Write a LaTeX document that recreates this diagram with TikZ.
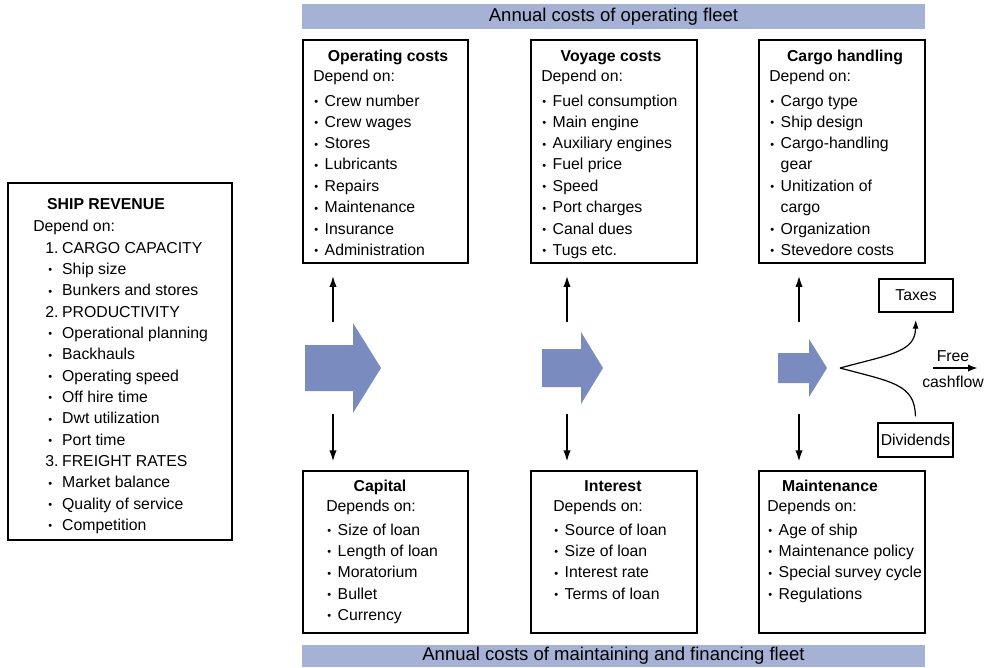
\documentclass[tikz,border=0pt]{standalone}
\usepackage{fontspec}
\usepackage{graphicx}
\setmainfont{Liberation Sans}
\usetikzlibrary{arrows.meta, fit}
\definecolor{Band}{HTML}{A5B2D6}
\definecolor{Flow}{HTML}{7A8BC0}

% bullets and list helpers
\newcommand\dotmark{\raisebox{0.5pt}{\scalebox{0.7}{\textbullet}}}
\newcommand\bul{\makebox[8.6pt][l]{\hspace*{0.8pt}\dotmark}}
\newcommand\rbul{\hspace*{10.5pt}\makebox[11.2pt][l]{\hspace*{0.8pt}\dotmark}}
\newcommand\rnum[1]{\hspace*{9pt}\makebox[12.7pt][l]{#1}}
\newcommand\lst[1]{\begin{tabular}[t]{@{}l@{}}#1\end{tabular}}

\begin{document}
\begin{tikzpicture}[x=0.75pt, y=-0.75pt,
  box/.style={draw, line width=0.9pt, inner sep=0pt},
  band/.style={fill=Band, inner sep=0pt, minimum width=467.25pt,
     font=\fontsize{13.9}{16}\selectfont},
  ttl/.style={anchor=base, inner sep=0pt, font=\fontsize{11.85}{16}\selectfont\bfseries},
  txt/.style={anchor=base west, inner sep=0pt, font=\fontsize{11.85}{16}\selectfont},
  lbl/.style={inner sep=0pt, font=\fontsize{11.85}{16}\selectfont},
  varr/.style={-{Latex[length=8.5pt,width=5.5pt]}, line width=1.4pt},
  flow/.style={fill=Flow}]
  \useasboundingbox (0,0) rectangle (988,667);

  % banners
  \node[band, minimum height=18.75pt] (opband) at (613.5,16.5)
    {Annual costs of operating fleet};
  \node[band, minimum height=16.5pt] (finband) at (613.5,656)
    {Annual costs of maintaining and financing fleet};

  % ship revenue
  \node[box, fit={(8,183) (232,540)}] (rev) {};
  \node[ttl] (rev-t) at (106,209.5) {SHIP REVENUE};
  \node[txt] (rev-l) at (33,231) {\lst{Depend on:\\[0.5pt]
    \rnum{1.}CARGO CAPACITY\\ \rbul Ship size\\ \rbul Bunkers and stores\\
    \rnum{2.}PRODUCTIVITY\\ \rbul Operational planning\\ \rbul Backhauls\\
    \rbul Operating speed\\ \rbul Off hire time\\ \rbul Dwt utilization\\
    \rbul Port time\\ \rnum{3.}FREIGHT RATES\\ \rbul Market balance\\
    \rbul Quality of service\\ \rbul Competition}};

  % operating fleet
  \node[box, fit={(303,40) (468,263)}] (opc) {};
  \node[ttl] (opc-t) at (388,62) {Operating costs};
  \node[txt] (opc-l) at (313,82) {\lst{Depend on:\\[2pt]
    \bul Crew number\\ \bul Crew wages\\ \bul Stores\\ \bul Lubricants\\
    \bul Repairs\\ \bul Maintenance\\ \bul Insurance\\ \bul Administration}};

  \node[box, fit={(531,40) (697,263)}] (voy) {};
  \node[ttl] (voy-t) at (611,62) {Voyage costs};
  \node[txt] (voy-l) at (541,82) {\lst{Depend on:\\[2pt]
    \bul Fuel consumption\\ \bul Main engine\\ \bul Auxiliary engines\\
    \bul Fuel price\\ \bul Speed\\ \bul Port charges\\ \bul Canal dues\\
    \bul Tugs etc.}};

  \node[box, fit={(759,40) (925,263)}] (cgo) {};
  \node[ttl] (cgo-t) at (845,62) {Cargo handling};
  \node[txt] (cgo-l) at (769,82) {\lst{Depend on:\\[2pt]
    \bul Cargo type\\ \bul Ship design\\ \bul Cargo-handling\\
    \hspace*{8.6pt}gear\\ \bul Unitization of\\ \hspace*{8.6pt}cargo\\
    \bul Organization\\ \bul Stevedore costs}};

  % maintaining and financing
  \node[box, fit={(303,471) (468,633)}] (cap) {};
  \node[ttl] (cap-t) at (380,491) {Capital};
  \node[txt] (cap-l) at (326,511) {\lst{Depends on:\\[2pt]
    \bul Size of loan\\ \bul Length of loan\\ \bul Moratorium\\
    \bul Bullet\\ \bul Currency}};

  \node[box, fit={(531,471) (697,633)}] (int) {};
  \node[ttl] (int-t) at (613,491) {Interest};
  \node[txt] (int-l) at (553,511) {\lst{Depends on:\\[2pt]
    \bul Source of loan\\ \bul Size of loan\\ \bul Interest rate\\
    \bul Terms of loan}};

  \node[box, fit={(759,471) (925,633)}] (mnt) {};
  \node[ttl] (mnt-t) at (830,491) {Maintenance};
  \node[txt] (mnt-l) at (767,511) {\lst{Depends on:\\[2pt]
    \bul Age of ship\\ \bul Maintenance policy\\ \bul Special survey cycle\\
    \bul Regulations}};

  % cash flow arrows
  \fill[flow] (305,345) -- (353,345) -- (353,323) -- (381,368) -- (353,413)
    -- (353,391) -- (305,391) -- cycle;
  \fill[flow] (542,349) -- (581,349) -- (581,332) -- (603,368) -- (581,404)
    -- (581,387) -- (542,387) -- cycle;
  \fill[flow] (778,353) -- (809,353) -- (809,339) -- (827,368) -- (809,397)
    -- (809,383) -- (778,383) -- cycle;

  % up and down arrows
  \coordinate (u1) at (333,322);
  \coordinate (u2) at (567,322);
  \coordinate (u3) at (799,322);
  \coordinate (d1) at (333,414);
  \coordinate (d2) at (567,414);
  \coordinate (d3) at (799,414);
  \draw[varr, shorten >=9pt] (u1) -- (u1 |- opc.south);
  \draw[varr, shorten >=9pt] (u2) -- (u2 |- voy.south);
  \draw[varr, shorten >=9pt] (u3) -- (u3 |- cgo.south);
  \draw[varr, shorten >=6.5pt] (d1) -- (d1 |- cap.north);
  \draw[varr, shorten >=6.5pt] (d2) -- (d2 |- int.north);
  \draw[varr, shorten >=6.5pt] (d3) -- (d3 |- mnt.north);

  % taxes, dividends, free cashflow
  \node[box, lbl, minimum width=55.5pt, minimum height=24.75pt] (tax)
    at (916,295.5) {Taxes};
  \node[box, lbl, minimum width=56.25pt, minimum height=25.5pt] (div)
    at (915.5,440) {Dividends};
  \coordinate (fork) at (840,368);
  \draw[-{Latex[length=6.5pt,width=4.5pt]}, line width=0.9pt, shorten >=5.5pt]
    (fork) .. controls (892,354) and (915,352) .. (tax.south);
  \draw[line width=0.9pt, shorten >=4.5pt]
    (fork) .. controls (892,382) and (915,384) .. (div.north);
  \node[lbl] (free) at (953,356) {Free};
  \node[lbl] (cash) at (953,382) {cashflow};
  \coordinate (fa) at (933,368);
  \coordinate (fb) at (978,368);
  \draw[-{Latex[length=7.5pt,width=5.5pt]}, line width=1.8pt] (fa) -- (fb);
\end{tikzpicture}
\end{document}
